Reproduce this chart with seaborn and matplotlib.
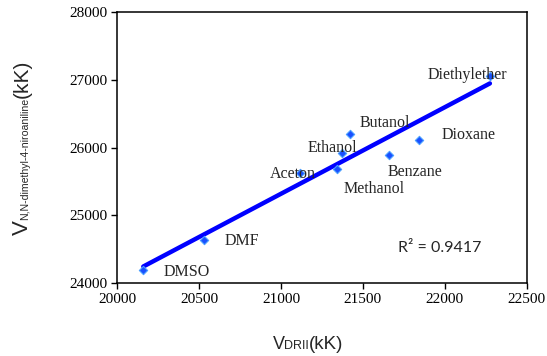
import numpy as np
import pandas as pd
import matplotlib
matplotlib.use("Agg")
import matplotlib.pyplot as plt
from matplotlib.transforms import IdentityTransform
import seaborn as sns

solvents = ["DMSO", "DMF", "Aceton", "Methanol", "Ethanol", "Butanol",
            "Benzane", "Dioxane", "Diethylether"]
v_drii = [20160, 20530, 21115, 21340, 21370, 21420, 21660, 21840, 22275]
v_dmna = [24190, 24640, 25620, 25690, 25920, 26200, 25890, 26110, 27060]
r2_text = "R² = 0.9417"

# label offsets in pixels (left edge / vertical centre of text)
label_offsets = {
    "DMSO": (20, -2), "DMF": (21, -1), "Aceton": (-30, -1),
    "Methanol": (7, -20), "Ethanol": (-34, 5), "Butanol": (10, 11),
    "Benzane": (-2, -17), "Dioxane": (23, 5), "Diethylether": (-62, 1),
}

df = pd.DataFrame({"solvent": solvents, "x": v_drii, "y": v_dmna})

sns.set_style("white")
serif = ["Liberation Serif", "DejaVu Serif"]
sans = ["Liberation Sans", "DejaVu Sans"]

fig = plt.figure(figsize=(5.47, 3.56), dpi=100)
ax = fig.add_axes([0.214, 0.205, 0.749, 0.761])

sns.regplot(data=df, x="x", y="y", ax=ax, scatter=False, ci=None,
            truncate=True, color="#0000ff", line_kws={"linewidth": 3.2})
sns.scatterplot(data=df, x="x", y="y", ax=ax, marker="D", s=18,
                color="#1a4fff", edgecolor="#4aa0ff", linewidth=0.8, zorder=3)

for name, xv, yv in zip(solvents, v_drii, v_dmna):
    dx, dy = label_offsets[name]
    ax.annotate(name, (xv, yv), xytext=(dx, dy), textcoords="offset pixels",
                ha="left", va="center", fontsize=11.5, family=serif, zorder=4)

ax.text(0.788, 0.129, r2_text, transform=ax.transAxes, ha="center",
        va="center", fontsize=11.5, family=["Lato", "DejaVu Sans"])

ax.set_xlim(20000, 22500)
ax.set_ylim(24000, 28000)
ax.set_xticks(np.arange(20000, 22501, 500))
ax.set_yticks(np.arange(24000, 28001, 1000))
ax.set_xlabel("")
ax.set_ylabel("")
for lab in ax.get_xticklabels() + ax.get_yticklabels():
    lab.set_family(serif)
    lab.set_fontsize(11)
ax.tick_params(direction="out", length=4, width=1, colors="black",
               bottom=True, left=True, pad=3)
for sp in ax.spines.values():
    sp.set_visible(True)
    sp.set_color("black")
    sp.set_linewidth(1.1)


def draw_pieces(pieces, cx, cy, rotation):
    """Draw text pieces of mixed size, centred at pixel (cx, cy)."""
    renderer = fig.canvas.get_renderer()
    texts, lengths = [], []
    for s, size in pieces:
        t = fig.text(0, 0, s, transform=IdentityTransform(), fontsize=size,
                     family=sans, rotation=rotation, ha="left", va="baseline",
                     rotation_mode="anchor")
        bb = t.get_window_extent(renderer)
        texts.append(t)
        lengths.append(bb.height if rotation else bb.width)
    pos = -sum(lengths) / 2
    for t, ln in zip(texts, lengths):
        t.set_position((cx, cy + pos) if rotation else (cx + pos, cy))
        pos += ln


H = 356
draw_pieces([("V", 13), ("DRII", 9), ("(kK)", 13.5)], 308, H - 349, 0)
draw_pieces([("V", 16), ("N,N-dimethyl-4-niroaniline", 7.6), ("(kK)", 15)],
            28, H - 147, 90)

fig.savefig("out.png", dpi=100, facecolor="white")
